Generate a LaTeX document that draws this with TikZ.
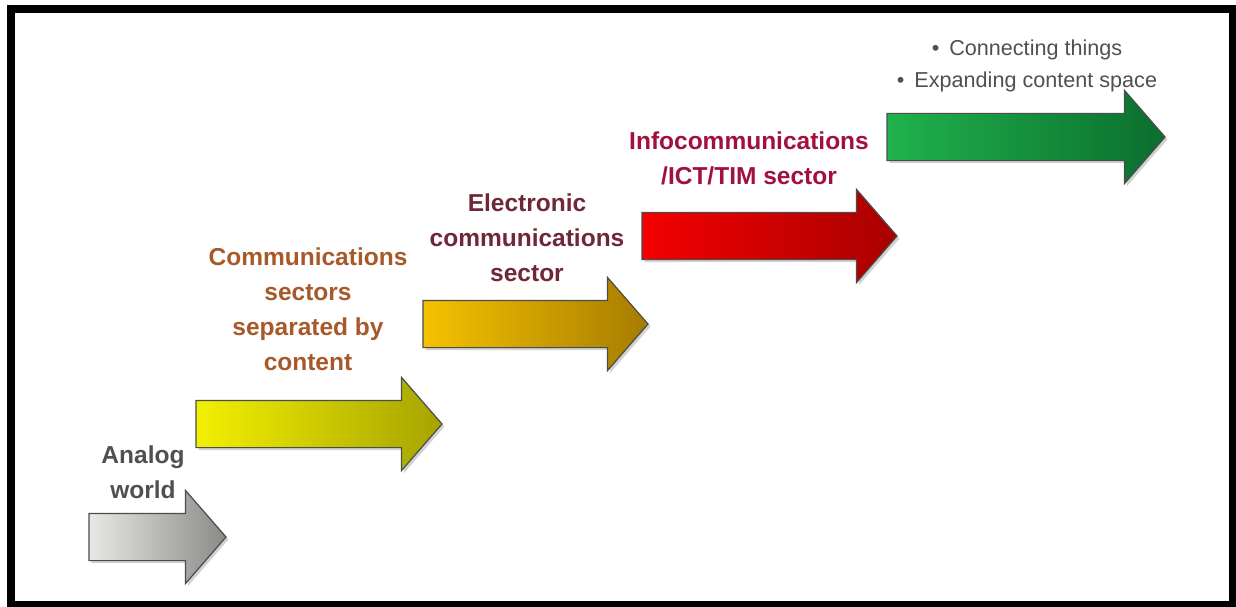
\documentclass[tikz,border=0pt]{standalone}
\usepackage{fontspec}
\setmainfont{Liberation Sans}
\usetikzlibrary{shapes.arrows, shadows}

% fill colours of the stage arrows (light tail, dark head)
\definecolor{analogL}{HTML}{E8E8E4}
\definecolor{analogR}{HTML}{8A8A86}
\definecolor{commL}{HTML}{F2F000}
\definecolor{commR}{HTML}{A6A300}
\definecolor{elecL}{HTML}{F5C200}
\definecolor{elecR}{HTML}{A67C00}
\definecolor{infoL}{HTML}{F40000}
\definecolor{infoR}{HTML}{A80000}
\definecolor{iotL}{HTML}{20B24C}
\definecolor{iotR}{HTML}{0B6E2E}

% text colours
\definecolor{greytxt}{HTML}{505050}
\definecolor{browntxt}{HTML}{A8592A}
\definecolor{maroontxt}{HTML}{6E2838}
\definecolor{crimsontxt}{HTML}{A3103C}

\begin{document}
\begin{tikzpicture}[x=1pt, y=-1pt,
    stage/.style={single arrow, single arrow head extend=23pt, single arrow tip angle=98,
        minimum height=#1, inner xsep=0pt, inner ysep=23pt, outer sep=0pt, anchor=tail,
        draw=black!70, line width=1.2pt,
        drop shadow={shadow xshift=2.5pt, shadow yshift=-2.5pt, opacity=0.35}},
    stagetext/.style={font=\bfseries\fontsize{24.5}{35}\selectfont, align=center}]

    % page and frame
    \useasboundingbox (0,0) rectangle (1236,607);
    \fill[white] (0,0) rectangle (1236,607);
    \draw[line width=8pt] (11,9) rectangle (1232.5,605);

    % the stage arrows, from lower left to upper right
    \foreach \name/\x/\y/\len/\lc/\rc in {analog/89/537/137/analogL/analogR,
                                          comm/196/424/246/commL/commR,
                                          elec/423/324/225/elecL/elecR,
                                          info/642/236/255/infoL/infoR,
                                          iot/887/137/278/iotL/iotR} {
        \node[stage=\len pt, left color=\lc, middle color=\lc!92!\rc, right color=\rc] (\name) at (\x,\y) {};
    }

    % stage names above the arrows
    \node[stagetext, text=greytxt]    (analogtxt) at (143,472) {Analog\\world};
    \node[stagetext, text=browntxt]   (commtxt)   at (308,309) {Communications\\sectors\\separated by\\content};
    \node[stagetext, text=maroontxt]  (electxt)   at (527,238) {Electronic\\communications\\sector};
    \node[stagetext, text=crimsontxt] (infotxt)   at (749,158) {Infocommunications\\/ICT/TIM sector};

    % last stage
    \node[font=\fontsize{21.6}{32}\selectfont, text=greytxt, align=center] (iottxt) at (1027,66)
        {\textbullet\hspace{10pt}Connecting things\\\textbullet\hspace{10pt}Expanding content space};

\end{tikzpicture}
\end{document}
